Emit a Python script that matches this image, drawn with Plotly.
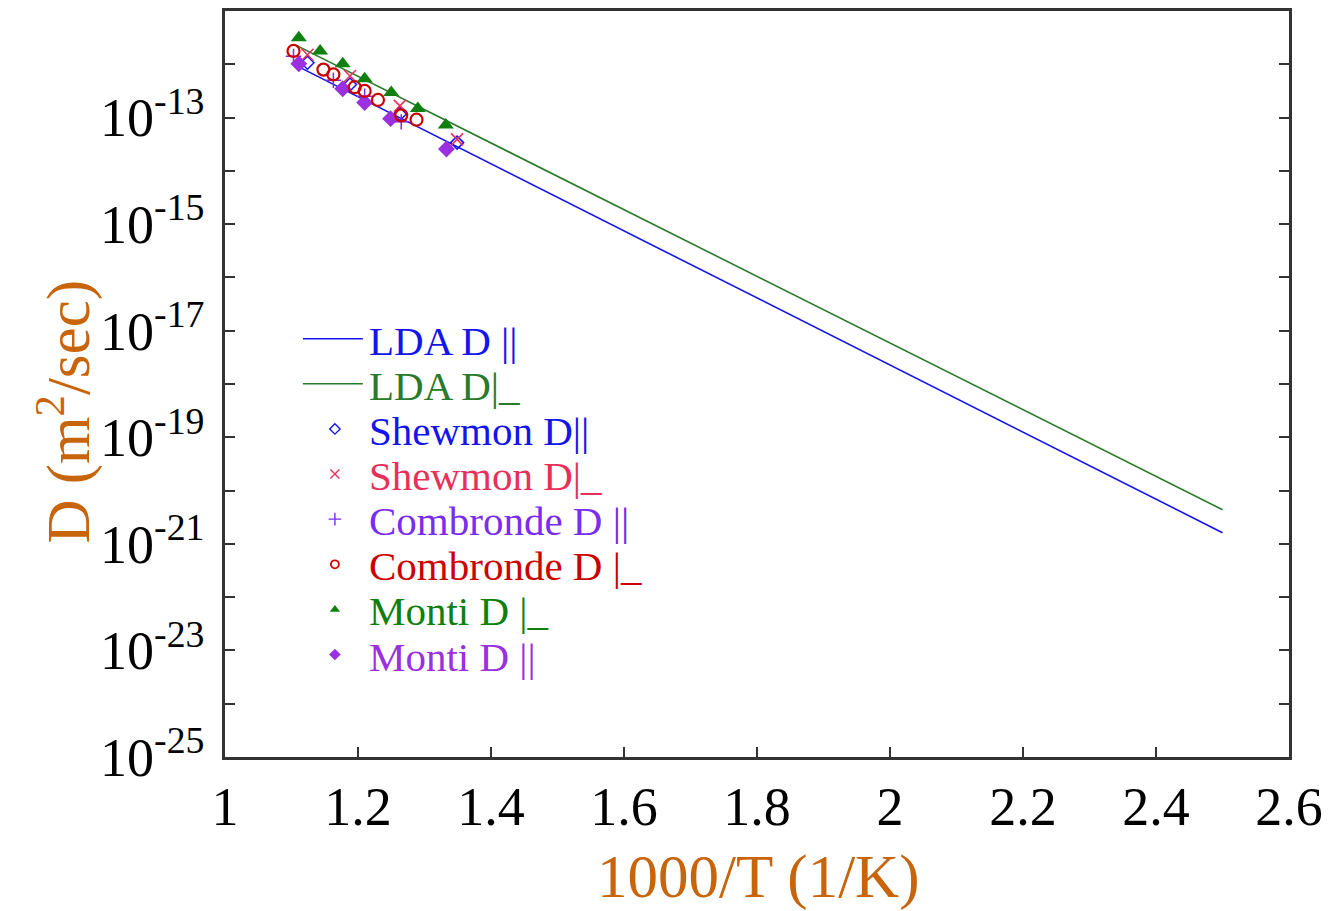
import plotly.graph_objects as go

# ---------------- data ----------------
lda_x = [1.108, 2.5]
lda_par = [9.33e-13, 1.62e-21]
lda_perp = [2.24e-12, 4.37e-21]

shew_x = [1.124, 1.188, 1.263, 1.349]
shew_par = [1.07e-12, 4.17e-13, 1.17e-13, 3.39e-14]
shew_perp = [1.51e-12, 6.03e-13, 1.66e-13, 3.89e-14]

comb_par_x = [1.103, 1.163, 1.210, 1.265]
comb_par = [1.41e-12, 5.01e-13, 2.51e-13, 8.32e-14]

comb_perp_x = [1.103, 1.148, 1.163, 1.195, 1.210, 1.230, 1.265, 1.288]
comb_perp = [1.78e-12, 7.94e-13, 6.46e-13, 3.72e-13, 3.16e-13, 2.14e-13, 1.10e-13, 9.12e-14]

monti_perp_x = [1.111, 1.143, 1.177, 1.210, 1.250, 1.290, 1.332]
monti_perp = [3.16e-12, 1.78e-12, 1.02e-12, 5.37e-13, 2.95e-13, 1.48e-13, 7.24e-14]

monti_par_x = [1.111, 1.177, 1.210, 1.249, 1.333]
monti_par = [1.02e-12, 3.47e-13, 1.91e-13, 9.55e-14, 2.57e-14]

y_label_exponents = [-25, -23, -21, -19, -17, -15, -13]
y_minor_exponents = [-24, -22, -20, -18, -16, -14, -12, -11]
x_ticks = [1, 1.2, 1.4, 1.6, 1.8, 2, 2.2, 2.4, 2.6]

legend_labels = ["LDA D ||", "LDA D|_", "Shewmon D||", "Shewmon D|_",
                 "Combronde D ||", "Combronde D |_", "Monti D |_", "Monti D ||"]

# ---------------- styles ----------------
C_BLUE = "#1414f0"
C_GREEN_LINE = "#2a7a2a"
C_PINK = "#e8305a"
C_VIOLET = "#7a2cf0"
C_RED = "#cc0000"
C_GREEN = "#0f800f"
C_PURPLE = "#9a30e0"
C_ORANGE = "#c8640a"
FONT = "Liberation Serif"

fig = go.Figure()

fig.add_trace(go.Scatter(x=lda_x, y=lda_par, mode="lines",
                         line=dict(color=C_BLUE, width=1.6), showlegend=False))
fig.add_trace(go.Scatter(x=lda_x, y=lda_perp, mode="lines",
                         line=dict(color=C_GREEN_LINE, width=1.6), showlegend=False))
fig.add_trace(go.Scatter(x=shew_x, y=shew_par, mode="markers", showlegend=False,
                         marker=dict(symbol="diamond-open", size=10, color=C_BLUE,
                                     line=dict(width=1.5, color=C_BLUE))))
fig.add_trace(go.Scatter(x=shew_x, y=shew_perp, mode="markers", showlegend=False,
                         marker=dict(symbol="x-thin-open", size=12, color=C_PINK,
                                     line=dict(width=1.6, color=C_PINK))))
fig.add_trace(go.Scatter(x=comb_par_x, y=comb_par, mode="markers", showlegend=False,
                         marker=dict(symbol="cross-thin-open", size=11, color=C_VIOLET,
                                     line=dict(width=1.5, color=C_VIOLET))))
fig.add_trace(go.Scatter(x=monti_par_x, y=monti_par, mode="markers", showlegend=False,
                         marker=dict(symbol="diamond", size=13, color=C_PURPLE)))
fig.add_trace(go.Scatter(x=comb_perp_x, y=comb_perp, mode="markers", showlegend=False,
                         marker=dict(symbol="circle-open", size=12, color=C_RED,
                                     line=dict(width=2.2, color=C_RED))))
fig.add_trace(go.Scatter(x=monti_perp_x, y=monti_perp, mode="markers", showlegend=False,
                         marker=dict(symbol="triangle-up", size=14, color=C_GREEN)))

# ---------------- manual legend (on hidden 0..1 overlay axes) ----------------
L, R, T, B = 225, 1290, 8, 757
W, H = R - L, B - T
def px_x(p): return (p - L) / W
def px_y(p): return (B - p) / H

row0, step = 337.0, 45.3
legend_colors = [C_BLUE, C_GREEN_LINE, C_BLUE, C_PINK, C_VIOLET, C_RED, C_GREEN, C_PURPLE]
for i, color in enumerate(legend_colors[:2]):
    yy = px_y(row0 + step * i)
    fig.add_trace(go.Scatter(x=[px_x(303), px_x(363)], y=[yy, yy], mode="lines",
                             line=dict(color=color, width=1.6), xaxis="x2", yaxis="y2",
                             showlegend=False, hoverinfo="skip"))
key_markers = [
    dict(symbol="diamond-open", size=8, color=C_BLUE, line=dict(width=1.4, color=C_BLUE)),
    dict(symbol="x-thin-open", size=9, color=C_PINK, line=dict(width=1.4, color=C_PINK)),
    dict(symbol="cross-thin-open", size=9, color=C_VIOLET, line=dict(width=1.4, color=C_VIOLET)),
    dict(symbol="circle-open", size=8, color=C_RED, line=dict(width=1.8, color=C_RED)),
    dict(symbol="triangle-up", size=9, color=C_GREEN),
    dict(symbol="diamond", size=9, color=C_PURPLE),
]
for j, mk in enumerate(key_markers):
    i = j + 2
    fig.add_trace(go.Scatter(x=[px_x(335)], y=[px_y(row0 + step * i)], mode="markers",
                             marker=mk, xaxis="x2", yaxis="y2",
                             showlegend=False, hoverinfo="skip"))

annotations = []
for i, (lab, color) in enumerate(zip(legend_labels, legend_colors)):
    annotations.append(dict(x=px_x(367), y=px_y(row0 + step * i + 2), xref="paper", yref="paper",
                            text=lab, showarrow=False, xanchor="left", yanchor="middle",
                            font=dict(family=FONT, size=41, color=color)))

# axis titles
annotations.append(dict(x=px_x(759), y=px_y(877), xref="paper", yref="paper",
                        text="1000/T (1/K)", showarrow=False, xanchor="center", yanchor="middle",
                        font=dict(family=FONT, size=61, color=C_ORANGE)))
annotations.append(dict(x=px_x(65), y=px_y(410), xref="paper", yref="paper",
                        text="D (m<sup>2</sup>/sec)", showarrow=False, textangle=-90,
                        xanchor="center", yanchor="middle",
                        font=dict(family=FONT, size=61, color=C_ORANGE)))

y_vals = [10.0 ** k for k in y_label_exponents]
y_text = ["10<sup>%d</sup>" % k for k in y_label_exponents]
y_minor = [10.0 ** k for k in y_minor_exponents]

fig.update_layout(
    width=1331, height=911,
    margin=dict(l=L, r=1331 - R, t=T, b=911 - B),
    paper_bgcolor="white", plot_bgcolor="white",
    font=dict(family=FONT, color="black"),
    showlegend=False,
    annotations=annotations,
    xaxis=dict(range=[1, 2.6], tickvals=x_ticks, ticktext=[("%g" % v) for v in x_ticks],
               ticks="inside", ticklen=10, tickwidth=2, tickcolor="#333",
               showline=True, linecolor="#333", linewidth=2.5, mirror=True,
               showgrid=False, zeroline=False,
               tickfont=dict(family=FONT, size=54, color="black")),
    yaxis=dict(type="log", range=[-25, -11], tickvals=y_vals, ticktext=y_text,
               ticks="inside", ticklen=10, tickwidth=2, tickcolor="#333",
               minor=dict(tickvals=y_minor, ticks="inside", ticklen=10, tickwidth=2,
                          tickcolor="#333", showgrid=False),
               showline=True, linecolor="#333", linewidth=2.5, mirror="ticks",
               showgrid=False, zeroline=False, ticklabelstandoff=7,
               tickfont=dict(family=FONT, size=54, color="black")),
    xaxis2=dict(range=[0, 1], overlaying="x", visible=False, fixedrange=True),
    yaxis2=dict(range=[0, 1], overlaying="y", visible=False, fixedrange=True),
)

fig.write_html("out.html")
